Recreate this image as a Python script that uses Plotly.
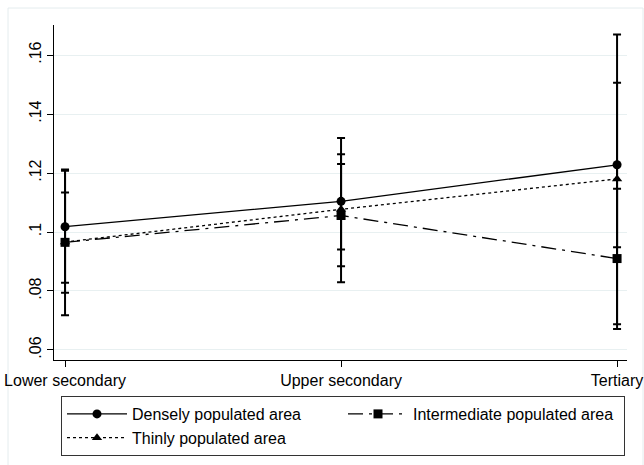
import numpy as np
import plotly.graph_objects as go

categories = ["Lower secondary", "Upper secondary", "Tertiary"]
ytick_vals = [0.06, 0.08, 0.10, 0.12, 0.14, 0.16]
ytick_text = [".06", ".08", ".1", ".12", ".14", ".16"]

dense_mean = [0.1018, 0.1104, 0.1228]
dense_lo = [0.0828, 0.0941, 0.0948]
dense_hi = [0.1208, 0.1264, 0.1506]

inter_mean = [0.0965, 0.1056, 0.0910]
inter_lo = [0.0794, 0.0884, 0.0671]
inter_hi = [0.1134, 0.1231, 0.1147]

thin_mean = [0.0966, 0.1077, 0.1180]
thin_lo = [0.0718, 0.0830, 0.0687]
thin_hi = [0.1212, 0.1319, 0.1670]

xpos = list(range(len(categories)))

series = [
    ("Densely populated area", dense_mean, dense_lo, dense_hi, "solid", "circle"),
    ("Intermediate populated area", inter_mean, inter_lo, inter_hi, "longdashdot", "square"),
    ("Thinly populated area", thin_mean, thin_lo, thin_hi, "dot", "triangle-up"),
]

W, H = 644, 465
L, R, T, B = 54, 17, 25, 105
pw, ph = W - L - R, H - T - B

fig = go.Figure()
for name, m, lo, hi, dash, sym in series:
    m_a, lo_a, hi_a = np.array(m), np.array(lo), np.array(hi)
    fig.add_trace(go.Scatter(
        x=xpos, y=m, name=name, mode="lines+markers",
        line=dict(color="black", width=1.3, dash=dash),
        marker=dict(symbol=sym, size=9, color="black"),
        error_y=dict(type="data", symmetric=False,
                     array=hi_a - m_a, arrayminus=m_a - lo_a,
                     color="black", thickness=2, width=4),
    ))

fig.add_shape(type="rect", xref="paper", yref="paper",
              x0=(8 - L) / pw, x1=(643 - L) / pw,
              y0=-(480 - (H - B)) / ph, y1=((H - B) - 8) / ph,
              line=dict(color="#e4ecee", width=1), fillcolor="rgba(0,0,0,0)",
              layer="below")

font_family = "Liberation Sans, Arial, Helvetica, sans-serif"

fig.update_layout(
    width=W, height=H,
    margin=dict(l=L, r=R, t=T, b=B, autoexpand=False),
    paper_bgcolor="white", plot_bgcolor="white",
    font=dict(family=font_family, size=16, color="black"),
    showlegend=True,
    legend=dict(
        orientation="h", x=(61 - L) / pw, y=-(396 - (H - B)) / ph,
        xanchor="left", yanchor="top",
        entrywidth=206, entrywidthmode="pixels",
        itemwidth=60,
        bordercolor="#333333", borderwidth=1, bgcolor="white",
        font=dict(size=16, family=font_family, color="black"),
        traceorder="normal",
    ),
    xaxis=dict(
        range=[-0.04, 2.036], tickvals=xpos, ticktext=categories,
        showgrid=False, zeroline=False, showline=True, linecolor="black",
        linewidth=1, ticks="outside", ticklen=6, tickcolor="black",
        tickfont=dict(size=16),
    ),
    yaxis=dict(
        range=[0.0566, 0.1702], tickvals=ytick_vals, ticktext=ytick_text,
        showgrid=True, gridcolor="#e8f0f1", gridwidth=1,
        zeroline=False, showline=True, linecolor="black", linewidth=1,
        ticks="outside", ticklen=6, tickcolor="black", tickangle=-90,
        tickfont=dict(size=16),
    ),
)

fig.write_html("out.html")
